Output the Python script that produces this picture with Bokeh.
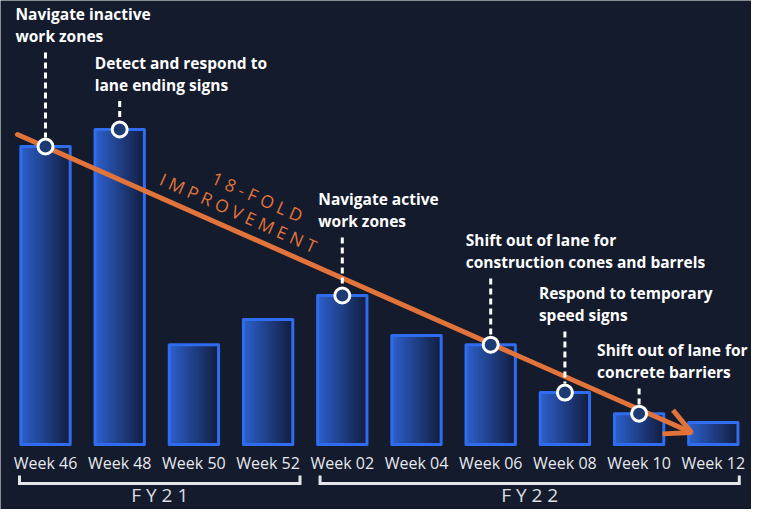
import numpy as np
from bokeh.plotting import figure
from bokeh.models import Range1d, Arrow, OpenHead, ColumnDataSource
from bokeh.core.properties import value
from bokeh.embed import file_html
from bokeh.resources import INLINE

# ---------------- data ----------------
categories = ["Week 46", "Week 48", "Week 50", "Week 52", "Week 02",
              "Week 04", "Week 06", "Week 08", "Week 10", "Week 12"]
values = [94.6, 100.0, 31.7, 39.7, 47.3, 34.6, 31.7, 16.5, 9.8, 7.0]

fiscal_years = ["FY21", "FY22"]
fy_first = [0, 4]      # first category index of each fiscal year
fy_last = [3, 9]       # last category index of each fiscal year

ann_idx = [0, 1, 4, 6, 7, 8]
ann_text = ["Navigate inactive\nwork zones",
            "Detect and respond to\nlane ending signs",
            "Navigate active\nwork zones",
            "Shift out of lane for\nconstruction cones and barrels",
            "Respond to temporary\nspeed signs",
            "Shift out of lane for\nconcrete barriers"]

trend_text = ["18-FOLD", "IMPROVEMENT"]

# ---------------- layout ----------------
W, H = 751, 509
XC0, DX = 45.0, 74.2      # canvas x of first bar centre, px per category
Y0, SY = 444.0, 3.15      # canvas y of baseline, px per value unit
BAR_W = 0.665

BG = "#131b2c"
ORANGE = "#e2733a"
BORDER = "#2f6cf0"
C_LEFT = np.array([0x2c, 0x60, 0xcc])
C_RIGHT = np.array([0x12, 0x1e, 0x3e])


def ref_y(py):  # canvas y (px) -> data y
    return (Y0 - py) / SY


def ref_x(px):  # canvas x (px) -> data x
    return (px - XC0) / DX


p = figure(width=W, height=H, output_backend="svg", toolbar_location=None,
           x_range=Range1d(-XC0 / DX, (W - XC0) / DX),
           y_range=Range1d(-(H - Y0) / SY, Y0 / SY),
           min_border=0)
p.axis.visible = False
p.grid.visible = False
p.outline_line_color = None
p.background_fill_color = BG
p.border_fill_color = BG

# ---------- bars with horizontal gradient ----------
NG = 64
t = np.linspace(0, 1, NG)
rgb = (C_LEFT[None, :] + (C_RIGHT - C_LEFT)[None, :] * t[:, None]).round().astype(np.uint32)
grad = np.zeros((1, NG), dtype=np.uint32)
grad[0, :] = (255 << 24) | (rgb[:, 2] << 16) | (rgb[:, 1] << 8) | rgb[:, 0]
imgs = [grad for _ in values]
r1 = p.image_rgba(image=imgs, x=[i - BAR_W / 2 for i in range(len(values))],
                  y=[0] * len(values), dw=[BAR_W] * len(values), dh=values)
r1.level = "image"
r2 = p.quad(left=[i - BAR_W / 2 for i in range(len(values))],
            right=[i + BAR_W / 2 for i in range(len(values))],
            top=values, bottom=[0] * len(values),
            fill_color=None, line_color=BORDER, line_width=3, line_join="round")
r2.level = "underlay"

# ---------- category labels ----------
p.text(x=list(range(len(categories))), y=[ref_y(462)] * len(categories), text=categories,
       text_align="center", text_baseline="middle", text_color="#e6e8ec",
       text_font=value("Open Sans"), text_font_size="16px")

# ---------- fiscal-year brackets ----------
br_x0 = [fy_first[0] - 0.35, fy_first[1] - 0.30]
br_x1 = [fy_last[0] + 0.43, fy_last[1] + 0.35]
yb = ref_y(483)
yt = ref_y(475)
xs, ys = [], []
for a, b in zip(br_x0, br_x1):
    xs.append([a, a, b, b])
    ys.append([yt, yb, yb, yt])
p.multi_line(xs=xs, ys=ys, line_color="#e4e6ea", line_width=3, line_join="miter")
p.text(x=[(a + b) / 2 for a, b in zip(br_x0, br_x1)], y=[ref_y(494)] * 2,
       text=[" ".join(list(s)) for s in fiscal_years],
       text_align="center", text_baseline="middle", text_color="#dcdee2",
       text_font=value("Open Sans"), text_font_size="19px")

# ---------- trend arrow ----------
arrow = Arrow(end=OpenHead(size=26, line_color=ORANGE, line_width=5),
              x_start=ref_x(17), y_start=ref_y(134),
              x_end=ref_x(691), y_end=ref_y(432),
              line_color=ORANGE, line_width=5, line_cap="round")
arrow.level = "underlay"
p.add_layout(arrow)

p.text(x=[ref_x(257), ref_x(238)], y=[ref_y(196), ref_y(212)],
       text=[" ".join(list(s)) for s in trend_text], angle=-0.42,
       text_align="center", text_baseline="middle", text_color=ORANGE,
       text_font=value("Open Sans"), text_font_size="17.5px")

# ---------- annotations ----------
label_cy = [24.5, 73, 209.5, 250.5, 303.5, 360.5]   # canvas y of label block centre
label_dx = [-30, -25, -24, -25, -26, -42]            # px offset from bar centre
ann_vals = [values[i] for i in ann_idx]
dash_top = [ref_y(c + 27.5) for c in label_cy]
dash_bot = [v + 9 / SY for v in ann_vals]
p.segment(x0=ann_idx, y0=dash_top, x1=ann_idx, y1=dash_bot,
          line_color="white", line_width=3, line_dash="6 4")
p.scatter(x=ann_idx, y=ann_vals, size=15, marker="circle",
          fill_color="#1d3b73", line_color="white", line_width=3)
src = ColumnDataSource(dict(x=ann_idx, y=[ref_y(c) for c in label_cy],
                            text=ann_text, dx=label_dx))
p.text(x="x", y="y", text="text", x_offset="dx", source=src,
       text_align="left", text_baseline="middle", text_color="white",
       text_font=value("Open Sans"), text_font_style="bold",
       text_font_size="15.5px", text_line_height=1.0)

open("out.html", "w").write(file_html(p, INLINE))
